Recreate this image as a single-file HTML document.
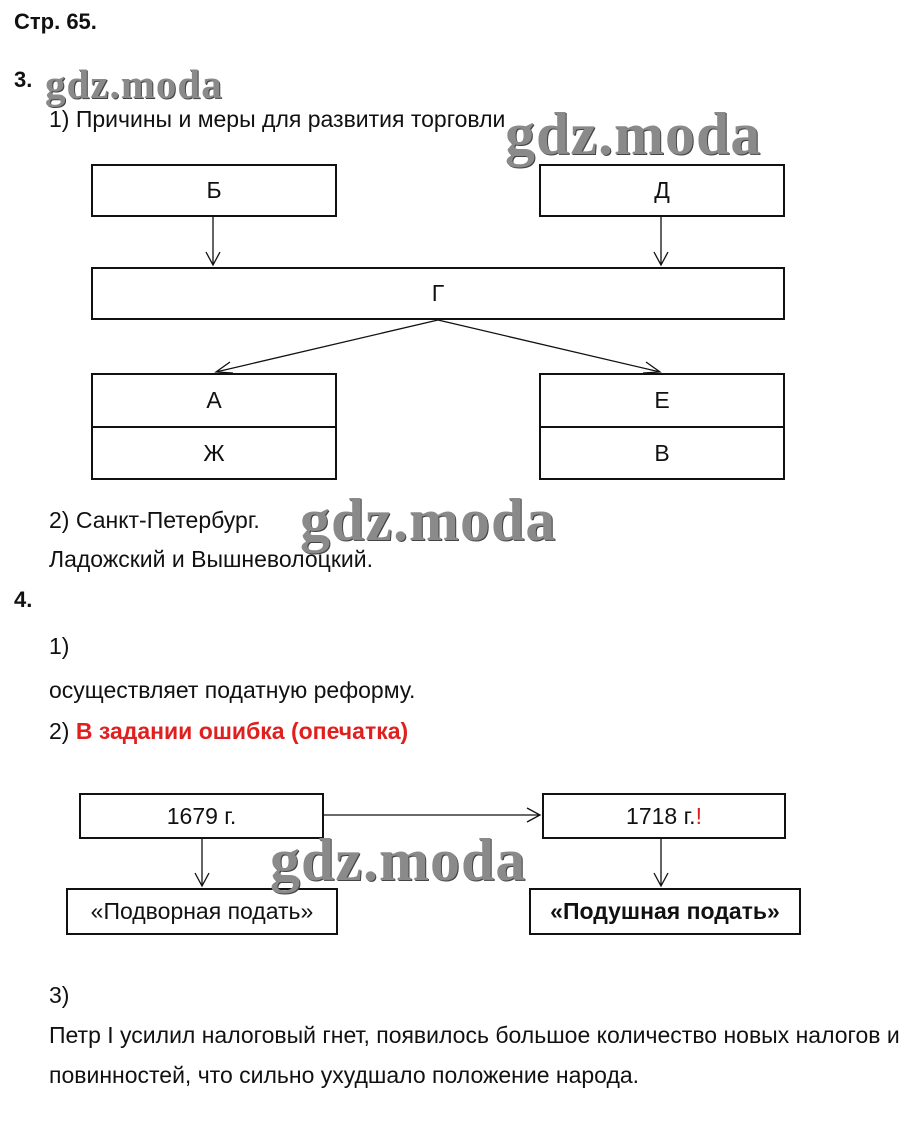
<!DOCTYPE html>
<html><head><meta charset="utf-8"><style>
body{margin:0;width:908px;height:1135px;background:#fff;position:relative;font-family:"Liberation Sans",sans-serif;color:#111;overflow:hidden}
.t{position:absolute;font-size:23px;white-space:nowrap;line-height:26px}
.b{font-weight:bold}
.box{position:absolute;border:2px solid #111;box-sizing:border-box;display:flex;align-items:center;justify-content:center;font-size:23px;background:#fff}
.wm{position:absolute;font-family:"Liberation Serif",serif;font-weight:bold;color:#8a8a8a;white-space:nowrap;text-shadow:1px 1px 0 #444;letter-spacing:1px}
svg{position:absolute;left:0;top:0}
</style></head><body>
<div class="t b" style="left:14px;top:9px;font-size:22px">Стр. 65.</div>
<div class="t b" style="left:14px;top:67px;font-size:22px">3.</div>
<div class="wm" style="left:45px;top:60px;font-size:41px">gdz.moda</div>
<div class="t" style="left:49px;top:106px">1) Причины и меры для развития торговли</div>
<div class="wm" style="left:505px;top:100px;font-size:60px">gdz.moda</div>

<div class="box" style="left:91px;top:164px;width:246px;height:53px">Б</div>
<div class="box" style="left:539px;top:164px;width:246px;height:53px">Д</div>
<div class="box" style="left:91px;top:267px;width:694px;height:53px">Г</div>
<div class="box" style="left:91px;top:373px;width:246px;height:55px">А</div>
<div class="box" style="left:91px;top:426px;width:246px;height:54px">Ж</div>
<div class="box" style="left:539px;top:373px;width:246px;height:55px">Е</div>
<div class="box" style="left:539px;top:426px;width:246px;height:54px">В</div>

<div class="t" style="left:49px;top:507px">2) Санкт-Петербург.</div>
<div class="wm" style="left:300px;top:486px;font-size:60px">gdz.moda</div>
<div class="t" style="left:49px;top:546px">Ладожский и Вышневолоцкий.</div>
<div class="t b" style="left:14px;top:587px;font-size:22px">4.</div>
<div class="t" style="left:49px;top:633px">1)</div>
<div class="t" style="left:49px;top:677px">осуществляет податную реформу.</div>
<div class="t" style="left:49px;top:718px">2) <span class="b" style="color:#e0201f">В задании ошибка (опечатка)</span></div>

<div class="box" style="left:79px;top:793px;width:245px;height:46px">1679 г.</div>
<div class="box" style="left:542px;top:793px;width:244px;height:46px">1718 г.<span style="color:#e0201f">!</span></div>
<div class="box" style="left:66px;top:888px;width:272px;height:47px">«Подворная подать»</div>
<div class="box b" style="left:529px;top:888px;width:272px;height:47px">«Подушная подать»</div>
<div class="wm" style="left:270px;top:826px;font-size:60px">gdz.moda</div>

<div class="t" style="left:49px;top:982px">3)</div>
<div class="t" style="left:49px;top:1022px">Петр I усилил налоговый гнет, появилось большое количество новых налогов и</div>
<div class="t" style="left:49px;top:1062px">повинностей, что сильно ухудшало положение народа.</div>

<svg width="908" height="1135" fill="none" stroke="#111" stroke-width="1.3">
<path d="M213 217V265M206 252L213 265L220 252"/>
<path d="M661 217V265M654 252L661 265L668 252"/>
<path d="M438 320L216 372M230 362L216 372L233 373"/>
<path d="M438 320L660 372M643 373L660 372L646 362"/>
<path d="M324 815H540M527 808L540 815L527 822"/>
<path d="M202 839V886M195 873L202 886L209 873"/>
<path d="M661 839V886M654 873L661 886L668 873"/>
</svg>
</body></html>
